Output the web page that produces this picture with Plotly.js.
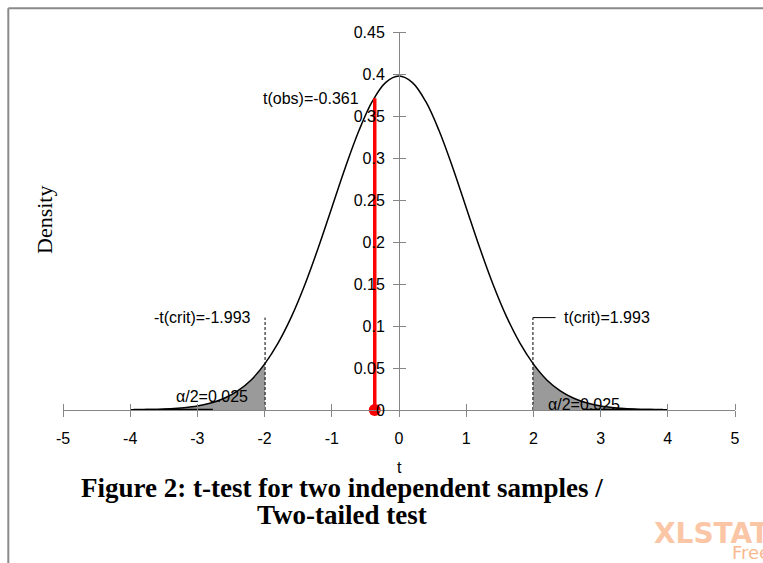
<!DOCTYPE html>
<html><head><meta charset="utf-8">
<script src="https://cdn.plot.ly/plotly-3.0.1.min.js"></script>
<style>html,body{margin:0;padding:0;background:#fff}#chart{width:763px;height:563px}</style>
</head><body><div id="chart"></div>
<script>
const tValues = [-4.0, -3.8, -3.6, -3.4, -3.2, -3.0, -2.8, -2.6, -2.4, -2.2, -1.993, -1.8, -1.6, -1.4, -1.2, -1.0, -0.8, -0.6, -0.4, -0.2, 0.0,
                 0.2, 0.4, 0.6, 0.8, 1.0, 1.2, 1.4, 1.6, 1.8, 1.993, 2.2, 2.4, 2.6, 2.8, 3.0, 3.2, 3.4, 3.6, 3.8, 4.0];
const densityValues = [0.0002, 0.0004, 0.0007, 0.0014, 0.0027, 0.0048, 0.0083, 0.0140, 0.0228, 0.0358, 0.0555, 0.0796, 0.1111, 0.1494, 0.1934, 0.2409, 0.2884, 0.3318, 0.3670, 0.3898, 0.3976,
                       0.3898, 0.3670, 0.3318, 0.2884, 0.2409, 0.1934, 0.1494, 0.1111, 0.0796, 0.0555, 0.0358, 0.0228, 0.0140, 0.0083, 0.0048, 0.0027, 0.0014, 0.0007, 0.0004, 0.0002];
const tObs = -0.361;
const densityAtObs = 0.371;
const tCrit = 1.993;
const critLineTop = 0.11;
const critLeaderEnd = 2.33;
const tailLineLeftX = [-3.95, -2.77];
const tailLineRightX = [2.74, 3.93];
const tailLineY = [0.0006, 0.0006];
const xTicks = [-5, -4, -3, -2, -1, 0, 1, 2, 3, 4, 5];
const xTickLabels = ['-5', '-4', '-3', '-2', '-1', '0', '1', '2', '3', '4', '5'];
const yTicks = [0, 0.05, 0.1, 0.15, 0.2, 0.25, 0.3, 0.35, 0.4, 0.45];
const yTickLabels = ['0', '0.05', '0.1', '0.15', '0.2', '0.25', '0.3', '0.35', '0.4', '0.45'];
const obsLabel = 't(obs)=-0.361';
const critLowLabel = '-t(crit)=-1.993';
const critHighLabel = 't(crit)=1.993';
const alphaLabel = 'α/2=0.025';
const xTitle = 't';
const yTitle = 'Density';
const titleLine1 = '<b>Figure 2:</b> <b>t-test for two independent samples /</b>';
const titleLine2 = '<b>Two-tailed test</b>';

const leftX = [], leftY = [], rightX = [], rightY = [];
tValues.forEach((t, i) => {
  if (t <= -tCrit) { leftX.push(t); leftY.push(densityValues[i]); }
  if (t >= tCrit) { rightX.push(t); rightY.push(densityValues[i]); }
});

const axisGray = '#868686';
const sans = 'Liberation Sans, Arial, sans-serif';
const serif = 'Liberation Serif, Times New Roman, serif';

const traces = [
  {x: leftX, y: leftY, type: 'scatter', mode: 'lines', fill: 'tozeroy', fillcolor: '#9a9a9a', line: {width: 0, shape: 'spline'}, hoverinfo: 'skip'},
  {x: rightX, y: rightY, type: 'scatter', mode: 'lines', fill: 'tozeroy', fillcolor: '#9a9a9a', line: {width: 0, shape: 'spline'}, hoverinfo: 'skip'},
  {x: tValues, y: densityValues, type: 'scatter', mode: 'lines', line: {color: '#000', width: 1.5, shape: 'spline'}},
  {x: tailLineLeftX, y: tailLineY, type: 'scatter', mode: 'lines', line: {color: '#000', width: 1.5}},
  {x: tailLineRightX, y: tailLineY, type: 'scatter', mode: 'lines', line: {color: '#000', width: 1.5}},
  {x: [-tCrit, -tCrit], y: [0, critLineTop], type: 'scatter', mode: 'lines', line: {color: '#000', width: 1, dash: '3px,2px'}},
  {x: [tCrit, tCrit], y: [0, critLineTop], type: 'scatter', mode: 'lines', line: {color: '#000', width: 1, dash: '3px,2px'}},
  {x: [tCrit, critLeaderEnd], y: [critLineTop, critLineTop], type: 'scatter', mode: 'lines', line: {color: '#000', width: 1}},
  {x: [tObs, tObs], y: [0, densityAtObs], type: 'scatter', mode: 'lines', line: {color: '#ff0000', width: 3.5}},
  {x: [tObs], y: [0], type: 'scatter', mode: 'markers', marker: {color: '#ff0000', size: 12}, xaxis: 'x2', yaxis: 'y2', cliponaxis: false}
];

const layout = {
  width: 763, height: 563,
  margin: {l: 63, r: 28, t: 32, b: 153},
  paper_bgcolor: '#fff', plot_bgcolor: '#fff',
  showlegend: false,
  xaxis: {range: [-5, 5], tickmode: 'array', tickvals: xTicks, ticktext: xTickLabels, ticks: 'outside', ticklen: 6, tickcolor: axisGray,
          showline: true, linecolor: axisGray, linewidth: 1, zeroline: false, showgrid: false,
          tickfont: {family: sans, size: 16, color: '#000'}, ticklabelstandoff: 8},
  xaxis2: {overlaying: 'x', anchor: 'free', position: 0, side: 'top', range: [-5, 5], tickmode: 'array', tickvals: xTicks,
           ticks: 'outside', ticklen: 6, tickcolor: axisGray, showticklabels: false, showline: false, zeroline: false, showgrid: false},
  yaxis: {range: [0, 0.45], anchor: 'free', position: 0.5, tickmode: 'array', tickvals: yTicks, ticktext: yTickLabels,
          ticks: 'outside', ticklen: 6, tickcolor: axisGray, showline: true, linecolor: axisGray, linewidth: 1,
          zeroline: false, showgrid: false, tickfont: {family: sans, size: 16, color: '#000'}, ticklabelstandoff: 5},
  yaxis2: {overlaying: 'y', anchor: 'free', position: 0.5, side: 'right', range: [0, 0.45], tickmode: 'array', tickvals: yTicks,
           ticks: 'outside', ticklen: 6, tickcolor: axisGray, showticklabels: false, showline: false, zeroline: false, showgrid: false},
  annotations: [
    {xref: 'x', yref: 'y', x: tObs, y: densityAtObs, xanchor: 'right', yanchor: 'middle', xshift: -14, text: obsLabel, showarrow: false, font: {family: sans, size: 16, color: '#000'}},
    {xref: 'x', yref: 'y', x: -tCrit, y: critLineTop, xanchor: 'right', yanchor: 'middle', xshift: -12, text: critLowLabel, showarrow: false, font: {family: sans, size: 16, color: '#000'}},
    {xref: 'x', yref: 'y', x: critLeaderEnd, y: critLineTop, xanchor: 'left', yanchor: 'middle', xshift: 6, text: critHighLabel, showarrow: false, font: {family: sans, size: 16, color: '#000'}},
    {xref: 'x', yref: 'y', x: -2.78, y: 0.0155, xanchor: 'center', yanchor: 'middle', text: alphaLabel, showarrow: false, font: {family: sans, size: 16, color: '#000'}},
    {xref: 'x', yref: 'y', x: 2.75, y: 0.006, xanchor: 'center', yanchor: 'middle', text: alphaLabel, showarrow: false, font: {family: sans, size: 16, color: '#000'}},
    {xref: 'paper', yref: 'paper', x: 0.5, y: -0.151, xanchor: 'center', yanchor: 'middle', text: xTitle, showarrow: false, font: {family: sans, size: 16, color: '#000'}},
    {xref: 'paper', yref: 'paper', x: -0.0283, y: 0.5026, xanchor: 'center', yanchor: 'middle', textangle: -90, text: yTitle, showarrow: false, font: {family: serif, size: 22, color: '#000'}},
    {xref: 'paper', yref: 'paper', x: 0.415, y: -0.2075, xanchor: 'center', yanchor: 'middle', text: titleLine1, showarrow: false, font: {family: serif, size: 27, color: '#000'}},
    {xref: 'paper', yref: 'paper', x: 0.415, y: -0.2765, xanchor: 'center', yanchor: 'middle', text: titleLine2, showarrow: false, font: {family: serif, size: 27, color: '#000'}},
    {xref: 'paper', yref: 'paper', x: 0.8765, y: -0.328, xanchor: 'left', yanchor: 'middle', text: '<b>XLSTAT</b>', showarrow: false, font: {family: 'DejaVu Sans, sans-serif', size: 28, color: '#fbc6a6'}},
    {xref: 'paper', yref: 'paper', x: 0.9926, y: -0.3757, xanchor: 'left', yanchor: 'middle', text: 'Free', showarrow: false, font: {family: 'DejaVu Sans, sans-serif', size: 18, color: '#f9b990'}}
  ],
  shapes: [
    {type: 'line', xref: 'paper', yref: 'paper', x0: -0.0814, x1: 1.06, y0: 1.0627, y1: 1.0627, line: {color: '#8a8a8a', width: 2}},
    {type: 'line', xref: 'paper', yref: 'paper', x0: -0.0814, x1: -0.0814, y0: 1.0627, y1: -0.42, line: {color: '#8a8a8a', width: 2}}
  ]
};

Plotly.newPlot('chart', traces, layout, {displayModeBar: false, staticPlot: true});
</script>
</body></html>
